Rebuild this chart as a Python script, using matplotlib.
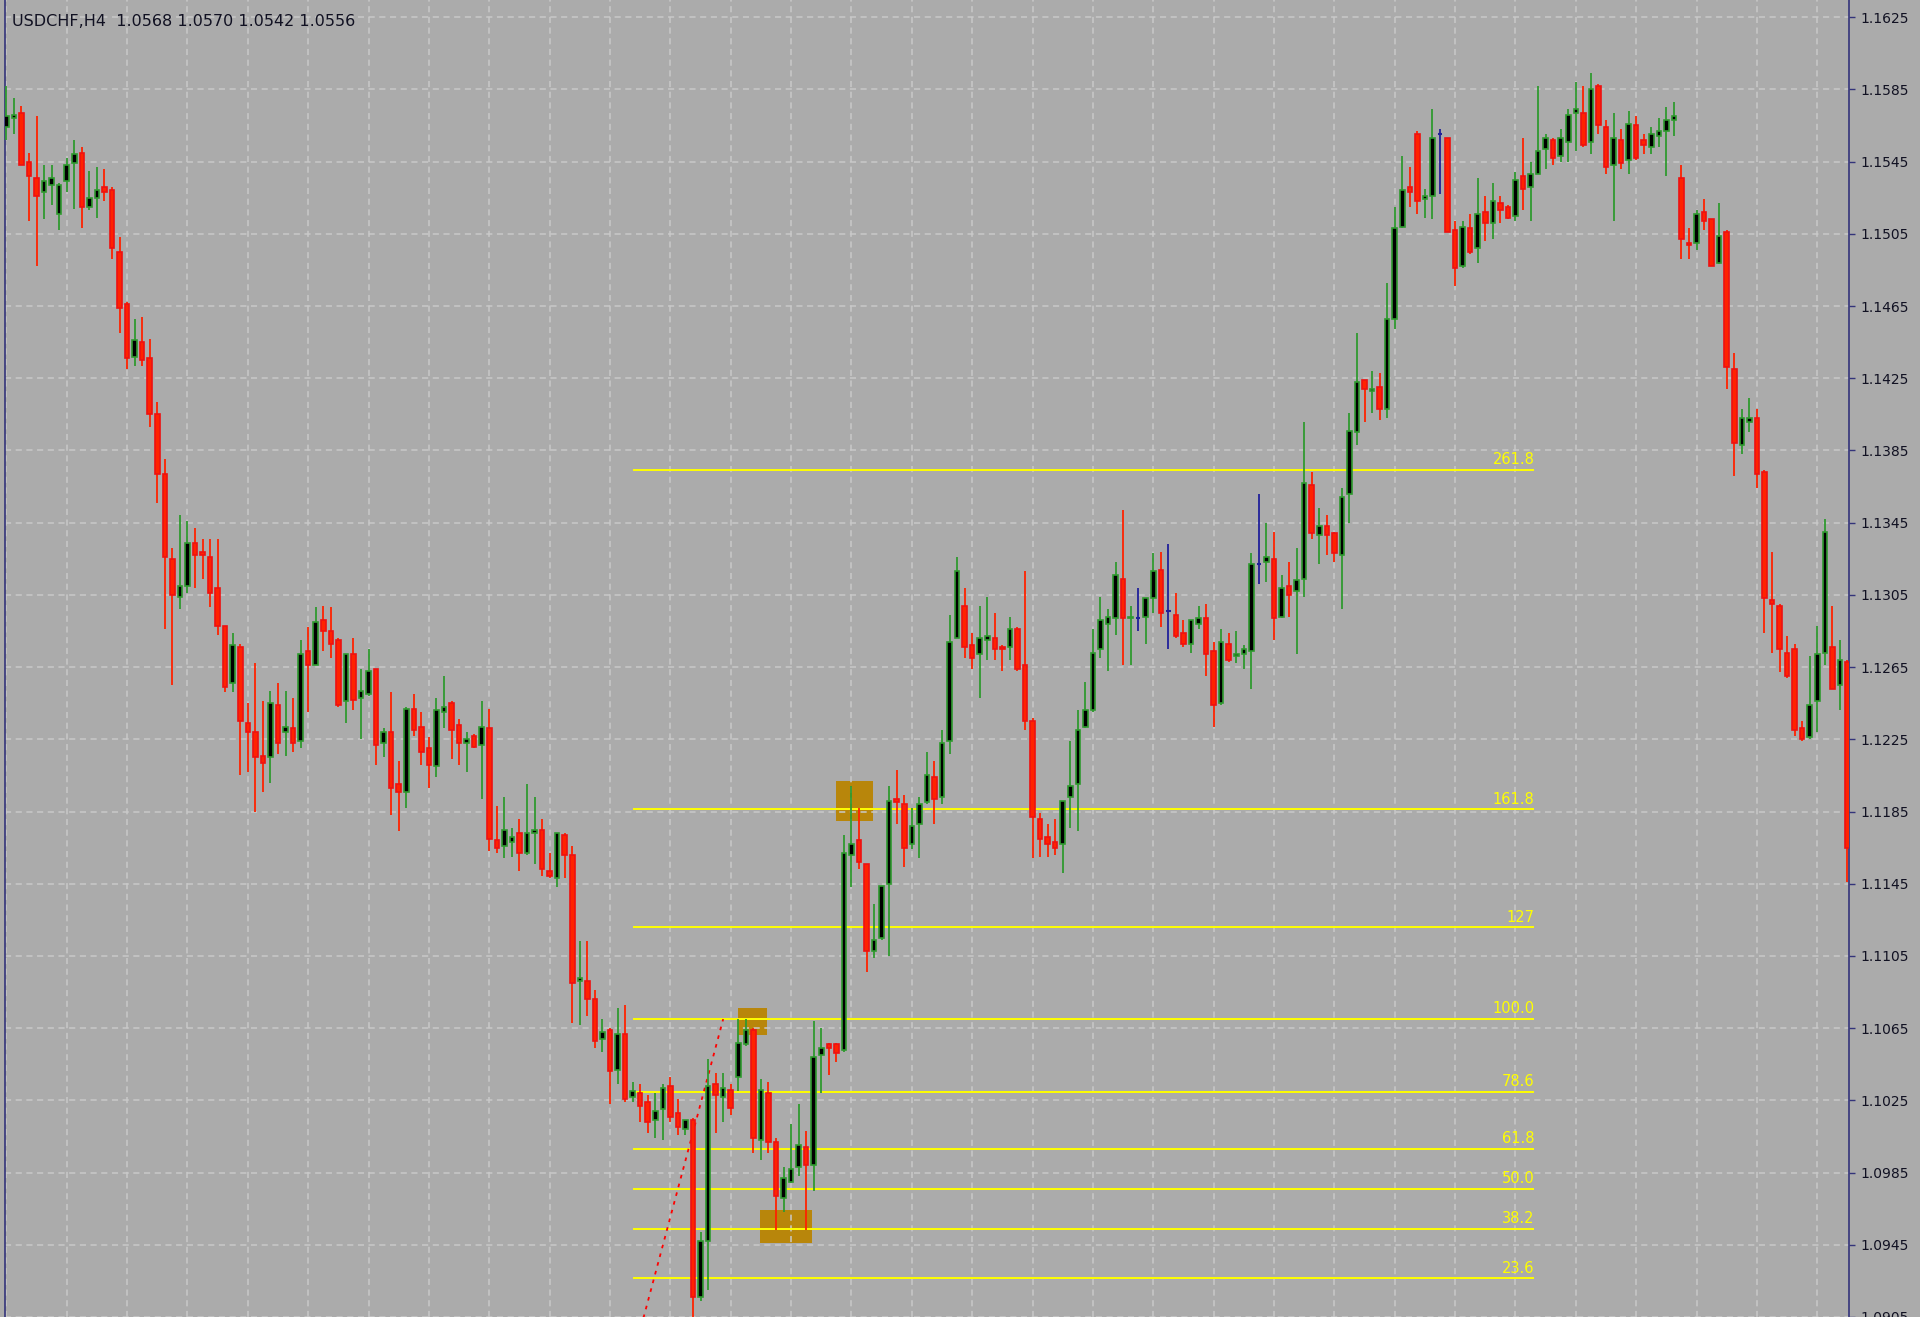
import numpy as np
import matplotlib
matplotlib.use('Agg')
import matplotlib.pyplot as plt
from matplotlib.patches import Rectangle

# USDCHF H4 candles (left -> right)
opens = [1.1564, 1.1569, 1.1572, 1.1545, 1.1536, 1.1528, 1.1532, 1.1516, 1.1534, 1.1544,
         1.1550, 1.1520, 1.1525, 1.1531, 1.1529, 1.1495, 1.1466, 1.1437, 1.1445, 1.1436,
         1.1405, 1.1372, 1.1325, 1.1304, 1.1310, 1.1334, 1.1329, 1.1326, 1.1309, 1.1288,
         1.1256, 1.1276, 1.1234, 1.1229, 1.1216, 1.1215, 1.1244, 1.1229, 1.1231, 1.1224,
         1.1274, 1.1266, 1.1291, 1.1285, 1.1280, 1.1246, 1.1272, 1.1248, 1.1250, 1.1264,
         1.1223, 1.1229, 1.1200, 1.1196, 1.1242, 1.1232, 1.1220, 1.1210, 1.1240, 1.1245,
         1.1233, 1.1223, 1.1227, 1.1222, 1.1231, 1.1169, 1.1166, 1.1168, 1.1173, 1.1162,
         1.1173, 1.1175, 1.1152, 1.1148, 1.1172, 1.1161, 1.1091, 1.1091, 1.1081, 1.1059,
         1.1064, 1.1042, 1.1062, 1.1027, 1.1029, 1.1024, 1.1014, 1.1020, 1.1033, 1.1018,
         1.1009, 1.1014, 1.0916, 1.0947, 1.1034, 1.1027, 1.1031, 1.1038, 1.1056, 1.1064,
         1.1003, 1.1029, 1.1002, 1.0971, 1.0980, 1.0988, 1.0999, 1.0989, 1.1050, 1.1056,
         1.1056, 1.1053, 1.1161, 1.1169, 1.1156, 1.1108, 1.1115, 1.1145, 1.1192, 1.1189,
         1.1167, 1.1178, 1.1190, 1.1204, 1.1193, 1.1224, 1.1281, 1.1299, 1.1277, 1.1272,
         1.1280, 1.1281, 1.1276, 1.1276, 1.1286, 1.1266, 1.1235, 1.1181, 1.1171, 1.1168,
         1.1167, 1.1193, 1.1200, 1.1232, 1.1241, 1.1275, 1.1289, 1.1292, 1.1314, 1.1292,
         1.1292, 1.1293, 1.1303, 1.1319, 1.1296, 1.1294, 1.1284, 1.1278, 1.1289, 1.1292,
         1.1274, 1.1245, 1.1278, 1.1271, 1.1272, 1.1274, 1.1322, 1.1323, 1.1325, 1.1293,
         1.1310, 1.1307, 1.1314, 1.1366, 1.1338, 1.1343, 1.1339, 1.1327, 1.1361, 1.1395,
         1.1424, 1.1418, 1.1420, 1.1408, 1.1458, 1.1509, 1.1531, 1.1560, 1.1524, 1.1526,
         1.1560, 1.1558, 1.1507, 1.1487, 1.1508, 1.1497, 1.1517, 1.1511, 1.1522, 1.1520,
         1.1515, 1.1537, 1.1531, 1.1538, 1.1552, 1.1557, 1.1548, 1.1556, 1.1572, 1.1572,
         1.1556, 1.1587, 1.1564, 1.1543, 1.1557, 1.1546, 1.1565, 1.1557, 1.1553, 1.1559,
         1.1562, 1.1568, 1.1536, 1.1500, 1.1500, 1.1517, 1.1513, 1.1489, 1.1506, 1.1430,
         1.1388, 1.1401, 1.1403, 1.1373, 1.1302, 1.1299, 1.1273, 1.1275, 1.1231, 1.1226,
         1.1246, 1.1273, 1.1276, 1.1255, 1.1268]
highs = [1.1587, 1.1580, 1.1576, 1.1550, 1.1570, 1.1543, 1.1543, 1.1533, 1.1547, 1.1557,
         1.1553, 1.1540, 1.1542, 1.1541, 1.1531, 1.1503, 1.1467, 1.1458, 1.1459, 1.1447,
         1.1412, 1.1380, 1.1331, 1.1349, 1.1346, 1.1342, 1.1336, 1.1336, 1.1336, 1.1288,
         1.1284, 1.1278, 1.1245, 1.1267, 1.1246, 1.1252, 1.1256, 1.1252, 1.1248, 1.1280,
         1.1287, 1.1298, 1.1299, 1.1298, 1.1281, 1.1272, 1.1281, 1.1264, 1.1275, 1.1264,
         1.1231, 1.1251, 1.1213, 1.1243, 1.1250, 1.1240, 1.1226, 1.1248, 1.1260, 1.1246,
         1.1236, 1.1229, 1.1228, 1.1246, 1.1242, 1.1188, 1.1193, 1.1176, 1.1181, 1.1200,
         1.1193, 1.1181, 1.1162, 1.1173, 1.1173, 1.1166, 1.1113, 1.1113, 1.1086, 1.1070,
         1.1065, 1.1076, 1.1078, 1.1035, 1.1034, 1.1028, 1.1029, 1.1034, 1.1038, 1.1026,
         1.1014, 1.1015, 1.0952, 1.1048, 1.1040, 1.1040, 1.1034, 1.1070, 1.1070, 1.1065,
         1.1037, 1.1035, 1.1004, 1.0988, 1.1012, 1.1023, 1.1008, 1.1069, 1.1065, 1.1057,
         1.1057, 1.1172, 1.1199, 1.1187, 1.1156, 1.1134, 1.1144, 1.1199, 1.1208, 1.1194,
         1.1187, 1.1193, 1.1218, 1.1213, 1.1230, 1.1294, 1.1326, 1.1309, 1.1284, 1.1299,
         1.1304, 1.1295, 1.1277, 1.1293, 1.1287, 1.1318, 1.1237, 1.1184, 1.1178, 1.1181,
         1.1191, 1.1224, 1.1241, 1.1257, 1.1286, 1.1304, 1.1297, 1.1323, 1.1352, 1.1299,
         1.1309, 1.1303, 1.1328, 1.1329, 1.1333, 1.1306, 1.1291, 1.1291, 1.1299, 1.1300,
         1.1279, 1.1286, 1.1284, 1.1285, 1.1277, 1.1328, 1.1361, 1.1345, 1.1340, 1.1316,
         1.1323, 1.1331, 1.1401, 1.1373, 1.1353, 1.1349, 1.1340, 1.1364, 1.1406, 1.1450,
         1.1424, 1.1429, 1.1428, 1.1478, 1.1520, 1.1548, 1.1542, 1.1562, 1.1530, 1.1574,
         1.1563, 1.1558, 1.1512, 1.1512, 1.1516, 1.1536, 1.1526, 1.1533, 1.1526, 1.1521,
         1.1539, 1.1558, 1.1545, 1.1587, 1.1560, 1.1558, 1.1563, 1.1574, 1.1589, 1.1587,
         1.1594, 1.1588, 1.1568, 1.1572, 1.1563, 1.1573, 1.1570, 1.1560, 1.1564, 1.1569,
         1.1575, 1.1578, 1.1543, 1.1508, 1.1518, 1.1524, 1.1513, 1.1522, 1.1507, 1.1439,
         1.1408, 1.1414, 1.1408, 1.1374, 1.1329, 1.1300, 1.1282, 1.1278, 1.1235, 1.1271,
         1.1288, 1.1347, 1.1299, 1.1280, 1.1269]
lows = [1.1557, 1.1560, 1.1543, 1.1512, 1.1487, 1.1513, 1.1521, 1.1507, 1.1528, 1.1519,
        1.1508, 1.1518, 1.1514, 1.1523, 1.1491, 1.1450, 1.1430, 1.1432, 1.1432, 1.1398,
        1.1356, 1.1286, 1.1255, 1.1297, 1.1306, 1.1309, 1.1314, 1.1298, 1.1283, 1.1251,
        1.1251, 1.1205, 1.1207, 1.1185, 1.1196, 1.1201, 1.1217, 1.1216, 1.1218, 1.1220,
        1.1240, 1.1266, 1.1274, 1.1270, 1.1243, 1.1234, 1.1241, 1.1225, 1.1249, 1.1211,
        1.1215, 1.1183, 1.1174, 1.1187, 1.1227, 1.1211, 1.1198, 1.1204, 1.1231, 1.1214,
        1.1211, 1.1207, 1.1220, 1.1192, 1.1163, 1.1162, 1.1159, 1.1160, 1.1152, 1.1161,
        1.1156, 1.1149, 1.1148, 1.1143, 1.1148, 1.1068, 1.1067, 1.1072, 1.1054, 1.1052,
        1.1023, 1.1034, 1.1024, 1.1024, 1.1013, 1.1007, 1.1004, 1.1003, 1.1013, 1.1006,
        1.1006, 1.0882, 1.0914, 1.0920, 1.1007, 1.1013, 1.1017, 1.1030, 1.1055, 1.0996,
        1.0992, 1.0996, 1.0953, 1.0963, 1.0979, 1.0983, 1.0953, 1.0975, 1.1029, 1.1039,
        1.1046, 1.1052, 1.1143, 1.1153, 1.1096, 1.1104, 1.1114, 1.1105, 1.1178, 1.1154,
        1.1164, 1.1159, 1.1189, 1.1178, 1.1189, 1.1217, 1.1281, 1.1270, 1.1264, 1.1248,
        1.1269, 1.1269, 1.1263, 1.1269, 1.1263, 1.1230, 1.1159, 1.1160, 1.1160, 1.1161,
        1.1151, 1.1176, 1.1174, 1.1231, 1.1240, 1.1270, 1.1263, 1.1283, 1.1266, 1.1266,
        1.1285, 1.1278, 1.1295, 1.1287, 1.1275, 1.1281, 1.1276, 1.1273, 1.1286, 1.1260,
        1.1232, 1.1244, 1.1268, 1.1267, 1.1264, 1.1253, 1.1311, 1.1312, 1.1280, 1.1292,
        1.1293, 1.1272, 1.1304, 1.1336, 1.1322, 1.1327, 1.1323, 1.1297, 1.1345, 1.1388,
        1.1401, 1.1406, 1.1402, 1.1403, 1.1452, 1.1508, 1.1520, 1.1516, 1.1514, 1.1513,
        1.1527, 1.1506, 1.1476, 1.1486, 1.1494, 1.1489, 1.1501, 1.1502, 1.1511, 1.1513,
        1.1512, 1.1518, 1.1512, 1.1538, 1.1541, 1.1543, 1.1545, 1.1545, 1.1551, 1.1553,
        1.1549, 1.1560, 1.1538, 1.1512, 1.1541, 1.1538, 1.1546, 1.1549, 1.1549, 1.1553,
        1.1537, 1.1559, 1.1491, 1.1491, 1.1496, 1.1507, 1.1487, 1.1488, 1.1419, 1.1371,
        1.1383, 1.1395, 1.1364, 1.1284, 1.1273, 1.1262, 1.1259, 1.1227, 1.1224, 1.1225,
        1.1229, 1.1266, 1.1253, 1.1241, 1.1146]
closes = [1.1570, 1.1571, 1.1543, 1.1537, 1.1526, 1.1534, 1.1536, 1.1532, 1.1543, 1.1549,
          1.1520, 1.1525, 1.1529, 1.1528, 1.1497, 1.1464, 1.1436, 1.1446, 1.1435, 1.1405,
          1.1372, 1.1326, 1.1305, 1.1310, 1.1334, 1.1327, 1.1327, 1.1306, 1.1288, 1.1254,
          1.1277, 1.1235, 1.1229, 1.1215, 1.1212, 1.1245, 1.1223, 1.1232, 1.1223, 1.1272,
          1.1266, 1.1290, 1.1285, 1.1278, 1.1244, 1.1272, 1.1247, 1.1252, 1.1263, 1.1222,
          1.1229, 1.1198, 1.1196, 1.1242, 1.1230, 1.1218, 1.1211, 1.1241, 1.1243, 1.1230,
          1.1223, 1.1225, 1.1221, 1.1232, 1.1170, 1.1165, 1.1175, 1.1171, 1.1162, 1.1173,
          1.1175, 1.1153, 1.1149, 1.1173, 1.1161, 1.1090, 1.1093, 1.1081, 1.1058, 1.1063,
          1.1041, 1.1062, 1.1026, 1.1030, 1.1022, 1.1013, 1.1019, 1.1032, 1.1016, 1.1010,
          1.1014, 1.0916, 1.0947, 1.1033, 1.1028, 1.1032, 1.1021, 1.1057, 1.1064, 1.1004,
          1.1031, 1.1002, 1.0972, 1.0982, 1.0987, 1.1000, 1.0989, 1.1049, 1.1054, 1.1054,
          1.1051, 1.1162, 1.1167, 1.1157, 1.1108, 1.1114, 1.1144, 1.1191, 1.1190, 1.1165,
          1.1177, 1.1189, 1.1205, 1.1192, 1.1223, 1.1279, 1.1318, 1.1276, 1.1270, 1.1281,
          1.1282, 1.1275, 1.1275, 1.1286, 1.1264, 1.1235, 1.1182, 1.1170, 1.1167, 1.1165,
          1.1191, 1.1199, 1.1230, 1.1241, 1.1273, 1.1291, 1.1293, 1.1316, 1.1292, 1.1293,
          1.1292, 1.1303, 1.1318, 1.1295, 1.1296, 1.1282, 1.1278, 1.1291, 1.1292, 1.1272,
          1.1244, 1.1279, 1.1269, 1.1272, 1.1275, 1.1322, 1.1322, 1.1326, 1.1292, 1.1309,
          1.1305, 1.1313, 1.1367, 1.1339, 1.1343, 1.1338, 1.1328, 1.1359, 1.1396, 1.1423,
          1.1419, 1.1419, 1.1408, 1.1458, 1.1508, 1.1529, 1.1528, 1.1523, 1.1526, 1.1558,
          1.1560, 1.1506, 1.1486, 1.1509, 1.1495, 1.1516, 1.1511, 1.1523, 1.1518, 1.1514,
          1.1535, 1.1530, 1.1538, 1.1551, 1.1558, 1.1547, 1.1558, 1.1571, 1.1574, 1.1554,
          1.1585, 1.1565, 1.1542, 1.1558, 1.1544, 1.1566, 1.1547, 1.1554, 1.1560, 1.1562,
          1.1568, 1.1570, 1.1502, 1.1499, 1.1516, 1.1512, 1.1487, 1.1504, 1.1431, 1.1389,
          1.1403, 1.1403, 1.1372, 1.1303, 1.1300, 1.1275, 1.1260, 1.1230, 1.1225, 1.1244,
          1.1272, 1.1340, 1.1253, 1.1269, 1.1165]

# price scale labels on the right
price_labels = ['1.1625', '1.1585', '1.1545', '1.1505', '1.1465', '1.1425', '1.1385',
                '1.1345', '1.1305', '1.1265', '1.1225', '1.1185', '1.1145', '1.1105',
                '1.1065', '1.1025', '1.0985', '1.0945', '1.0905']

# fibonacci object
fib_levels = [23.6, 38.2, 50.0, 61.8, 78.6, 100.0, 127.0, 161.8, 261.8]
fib_names = ['23.6', '38.2', '50.0', '61.8', '78.6', '100.0', '127', '161.8', '261.8']
fib_low = 1.0882
fib_high = 1.1070
fib_bar_low = 83
fib_bar_high = 95
fib_bar_end = 202.5

# highlight boxes (bar index / price)
box_left = [96.9, 99.9, 109.9]
box_right = [100.8, 106.8, 114.9]
box_top = [1.1076, 1.0964, 1.1202]
box_bottom = [1.1061, 1.0946, 1.1180]

bg = '#ababab'
bull = '#2f9a2f'
bear = '#ff2200'
doji_col = '#20209a'
axis_col = '#34347a'

fig = plt.figure(figsize=(19.2, 13.17), dpi=100, facecolor=bg)
ax = fig.add_axes([4.7 / 1920, 0, (1849 - 4.7) / 1920, 1.0])
ax.set_facecolor(bg)

o = np.array(opens)
h = np.array(highs)
l = np.array(lows)
c = np.array(closes)
x = np.arange(len(o))

up = c > o
dn = c < o
dj = c == o
w = 0.6

ax.vlines(x[up], l[up], h[up], color=bull, lw=1.3, zorder=3)
ax.bar(x[up], c[up] - o[up], bottom=o[up], width=w, color='black',
       edgecolor=bull, linewidth=1.2, zorder=4)
ax.vlines(x[dn], l[dn], h[dn], color=bear, lw=1.3, zorder=3)
ax.bar(x[dn], o[dn] - c[dn], bottom=c[dn], width=w, color=bear,
       edgecolor='#ee1111', linewidth=1.2, zorder=4)
ax.vlines(x[dj], l[dj], h[dj], color=doji_col, lw=1.3, zorder=3)
ax.hlines(c[dj], x[dj] - w / 2, x[dj] + w / 2, color=doji_col, lw=1.5, zorder=4)

# boxes
for i in range(len(box_left)):
    ax.add_patch(Rectangle((box_left[i], box_bottom[i]), box_right[i] - box_left[i],
                           box_top[i] - box_bottom[i], facecolor='#b8860b',
                           edgecolor='none', zorder=0.3))

# fibo levels
for lev, name in zip(fib_levels, fib_names):
    p = fib_low + (fib_high - fib_low) * lev / 100.0
    ax.hlines(p, fib_bar_low, fib_bar_end, color='#ffff00', lw=1.4, zorder=2)
    ax.annotate(name, (fib_bar_end, p), xytext=(0, 2), textcoords='offset points',
                ha='right', va='bottom', color='#ffff00', fontsize=10.5, zorder=2)
ax.plot([fib_bar_low, fib_bar_high], [fib_low, fib_high], color='red', lw=1.3,
        ls=(0, (2, 3)), zorder=2)

# axes, grid
ax.set_xlim(-0.216, 244.2)
ax.set_ylim(1.09067, 1.16345)
ax.set_yticks([float(s) for s in price_labels])
ax.set_yticklabels(price_labels)
ax.yaxis.tick_right()
ax.set_xticks(np.arange(0, len(o), 8))
ax.tick_params(axis='x', length=0, labelbottom=False)
ax.tick_params(axis='y', direction='out', length=4, width=1, color=axis_col,
               labelsize=10, labelcolor='#111122', pad=4)
ax.set_axisbelow(True)
ax.grid(True, color='#c9c9c9', lw=1.1, ls=(0, (4, 3)))
for s in ['top', 'bottom']:
    ax.spines[s].set_visible(False)
for s in ['left', 'right']:
    ax.spines[s].set_color(axis_col)
    ax.spines[s].set_linewidth(1.2)

fig.text(12 / 1920, 1 - 22 / 1317, 'USDCHF,H4  1.0568 1.0570 1.0542 1.0556',
         va='center', ha='left', fontsize=11.5, color='#111122')

fig.savefig('out.png', dpi=100, facecolor=bg)
